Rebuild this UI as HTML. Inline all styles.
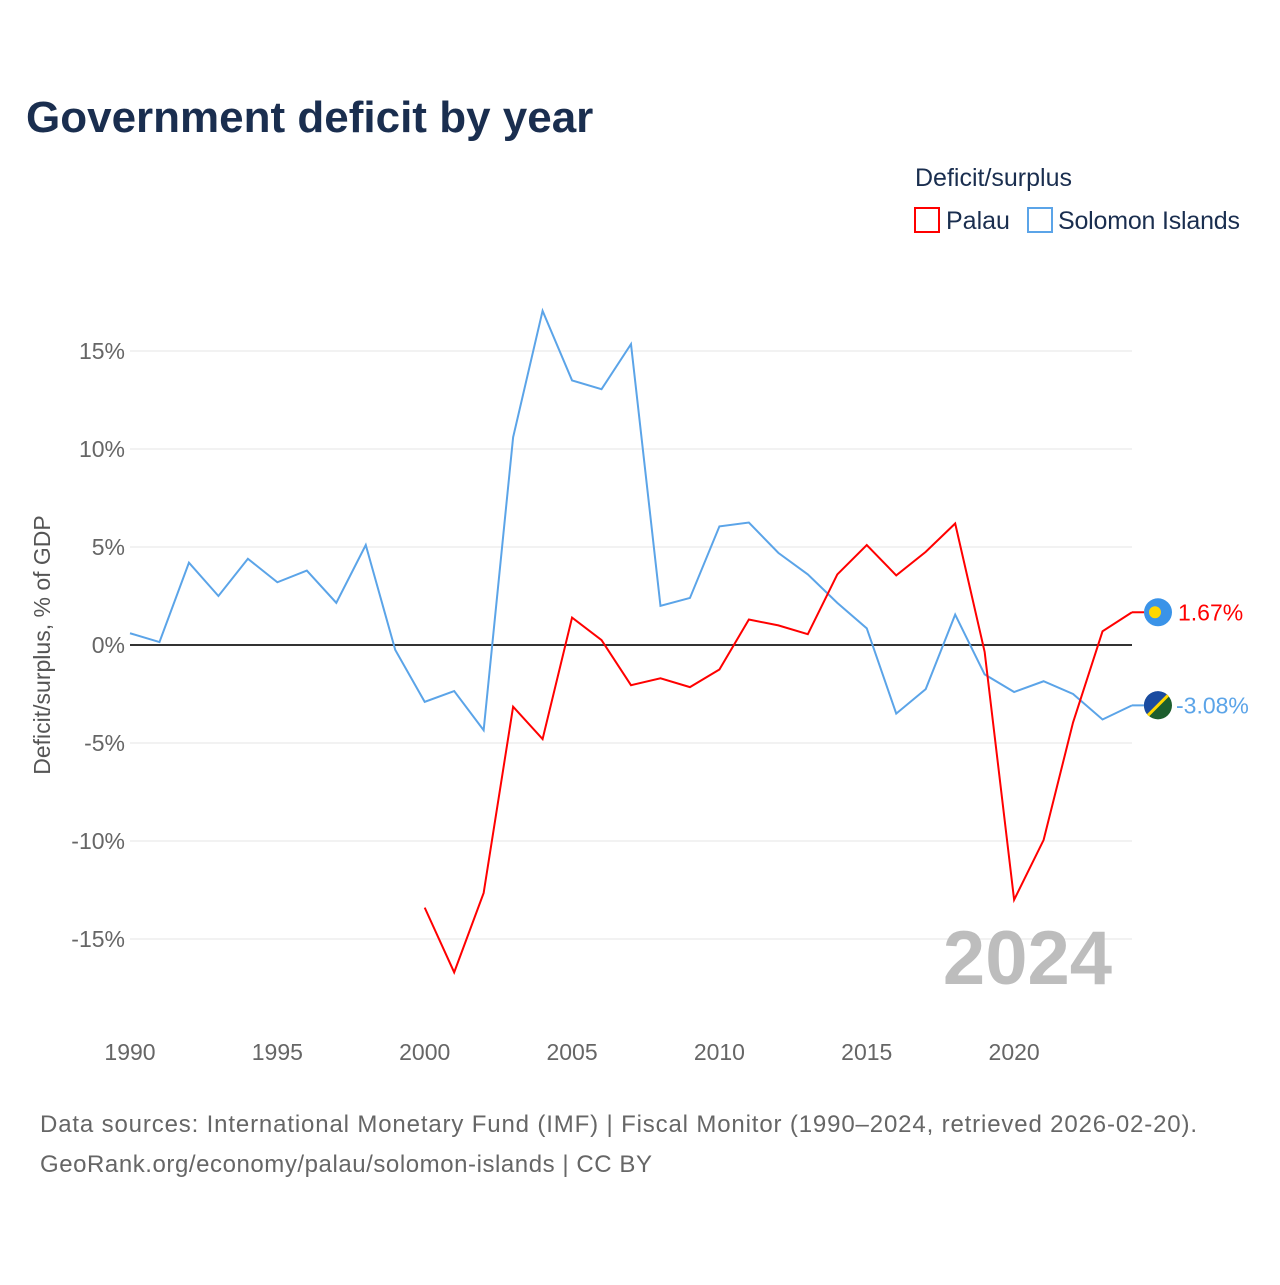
<!DOCTYPE html>
<html><head><meta charset="utf-8"><style>
body{margin:0;background:#fff;font-family:"Liberation Sans",sans-serif}
svg text{font-family:"Liberation Sans",sans-serif}
</style></head><body>
<svg id="chart" width="1280" height="1280" xmlns="http://www.w3.org/2000/svg">
<text x="26" y="132" font-size="44" font-weight="bold" fill="#1a2e4f">Government deficit by year</text>
<text x="915" y="186" font-size="25" fill="#1a2e4f">Deficit/surplus</text>
<g><rect x="915" y="208" width="24" height="24" fill="none" stroke="#f00" stroke-width="2"/><text x="946" y="229" font-size="25" fill="#1a2e4f">Palau</text></g>
<g><rect x="1028" y="208" width="24" height="24" fill="none" stroke="#5ba4e8" stroke-width="2"/><text x="1058" y="229" font-size="25" fill="#1a2e4f" textLength="182">Solomon Islands</text></g>
<g id="grid"></g>
<g id="xaxis"></g>
<text transform="translate(50,645) rotate(-90)" text-anchor="middle" font-size="23" fill="#555">Deficit/surplus, % of GDP</text>
<text x="1112" y="984" text-anchor="end" font-size="76" font-weight="bold" fill="#bdbdbd">2024</text>
<g id="series"></g>
<text x="40" y="1132" font-size="24" fill="#666" textLength="1157">Data sources: International Monetary Fund (IMF) | Fiscal Monitor (1990–2024, retrieved 2026-02-20).</text>
<text x="40" y="1172" font-size="24" fill="#666" textLength="612">GeoRank.org/economy/palau/solomon-islands | CC BY</text>
</svg>
<script>
const yTicks=[15,10,5,0,-5,-10,-15];
const xTicks=[1990,1995,2000,2005,2010,2015,2020];
const solomonYears=[1990,1991,1992,1993,1994,1995,1996,1997,1998,1999,2000,2001,2002,2003,2004,2005,2006,2007,2008,2009,2010,2011,2012,2013,2014,2015,2016,2017,2018,2019,2020,2021,2022,2023,2024];
const solomonValues=[0.6,0.15,4.2,2.5,4.4,3.2,3.8,2.15,5.1,-0.25,-2.9,-2.35,-4.35,10.6,17.05,13.5,13.05,15.35,2.0,2.4,6.05,6.25,4.7,3.6,2.15,0.85,-3.5,-2.25,1.55,-1.5,-2.4,-1.85,-2.5,-3.8,-3.08];
const palauYears=[2000,2001,2002,2003,2004,2005,2006,2007,2008,2009,2010,2011,2012,2013,2014,2015,2016,2017,2018,2019,2020,2021,2022,2023,2024];
const palauValues=[-13.4,-16.7,-12.65,-3.15,-4.8,1.4,0.25,-2.05,-1.7,-2.15,-1.25,1.3,1.0,0.55,3.6,5.1,3.55,4.75,6.2,-0.35,-13.0,-9.95,-3.95,0.7,1.67];
const NS="http://www.w3.org/2000/svg";
const X=y=>130+(y-1990)*(1132-130)/34;
const Y=v=>645-v*19.6;
function mk(t,a,p){const e=document.createElementNS(NS,t);for(const k in a)e.setAttribute(k,a[k]);p.appendChild(e);return e;}
const grid=document.getElementById('grid');
yTicks.forEach(v=>{
 const l=mk('line',{x1:130,x2:1132,y1:Y(v),y2:Y(v),stroke:v===0?'#333':'#e6e6e6','stroke-width':v===0?2:1},grid);
 
 
 const t=mk('text',{x:125,y:Y(v)+8,'text-anchor':'end','font-size':23,fill:'#666'},grid);
 t.textContent=v+'%';
 
 
});
const xa=document.getElementById('xaxis');
xTicks.forEach(y=>{
 const t=mk('text',{x:X(y),y:1060,'text-anchor':'middle','font-size':23,fill:'#666'},xa);
 t.textContent=y;
 
 
});
const s=document.getElementById('series');
function line(ys,vs,c,name){
 const p=mk('polyline',{points:ys.map((y,i)=>X(y)+','+Y(vs[i])).join(' '),fill:'none',stroke:c,'stroke-width':2},s);
 
 
}
line(solomonYears,solomonValues,'#5ba4e8','solomon-islands-line');
line(palauYears,palauValues,'#f00','palau-line');
const pl=palauValues[palauValues.length-1], sl=solomonValues[solomonValues.length-1];
const py=Y(pl), sy=Y(sl);
const c1=mk('line',{x1:1132,x2:1144,y1:py,y2:py,stroke:'#f00','stroke-width':2},s);


const c2=mk('line',{x1:1132,x2:1144,y1:sy,y2:sy,stroke:'#5ba4e8','stroke-width':2},s);


const f1=mk('g',{},s);


mk('circle',{cx:1158,cy:py,r:14,fill:'#3a93e8'},f1);mk('circle',{cx:1155,cy:py,r:6,fill:'#ffd700'},f1);
const f2=mk('g',{},s);


mk('circle',{cx:1158,cy:sy,r:14,fill:'#1d5e2e'},f2);
mk('path',{d:`M1144,${sy} A14,14 0 0 1 1168,${sy-10} L1148,${sy+10} A14,14 0 0 1 1144,${sy} Z`,fill:'#1a4ba0'},f2);
mk('line',{x1:1148,y1:sy+10,x2:1168,y2:sy-10,stroke:'#ffd700','stroke-width':3},f2);
const l1=mk('text',{x:1178,y:py+8,'font-size':23,fill:'#f00'},s);
l1.textContent=pl.toFixed(2)+'%';


const l2=mk('text',{x:1176,y:sy+8,'font-size':23,fill:'#5ba4e8'},s);
l2.textContent=sl.toFixed(2)+'%';


</script>
</body></html>
